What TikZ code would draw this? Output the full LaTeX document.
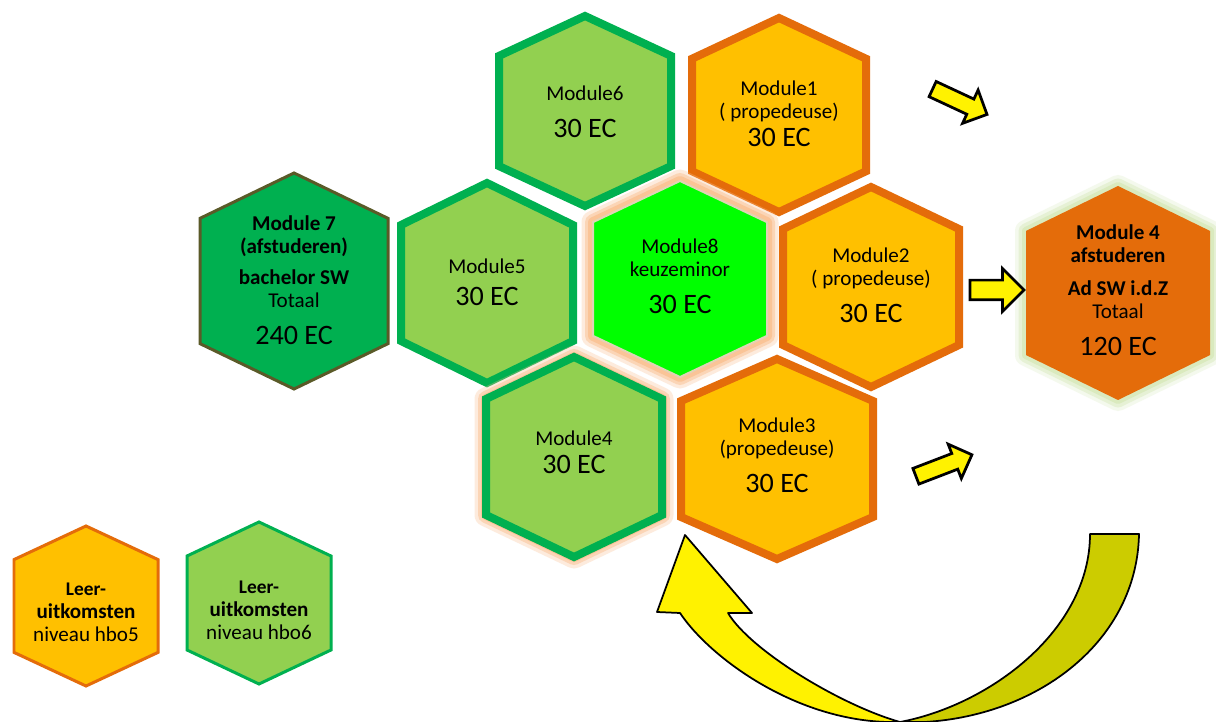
\documentclass[tikz,border=0pt]{standalone}
\usepackage{fontspec}
\setmainfont{Carlito}
\usetikzlibrary{shapes.arrows}

\definecolor{lgreen}{HTML}{92D050}
\definecolor{dgreen}{HTML}{00B050}
\definecolor{gold}{HTML}{FFC000}
\definecolor{orangeb}{HTML}{E46C0A}
\definecolor{lime}{HTML}{00FF00}
\definecolor{peach}{HTML}{FAC090}
\definecolor{glowgreen}{HTML}{D7E9B9}
\definecolor{mossy}{HTML}{5A5A28}
\definecolor{beige}{HTML}{E2D3B6}
\definecolor{darkyellow}{HTML}{CCCC00}

% hexagon: name, x, y, half width, half height, style, text y, text
\newcommand{\hexmod}[8]{%
  \path[#6] (#2,#3-#5) -- (#2+#4,#3-0.58*#5) -- (#2+#4,#3+0.58*#5) -- (#2,#3+#5)
    -- (#2-#4,#3+0.58*#5) -- (#2-#4,#3-0.58*#5) -- cycle;
  \node[modtext] (#1) at (#2,#7) {#8};}
\newcommand{\ec}[1]{{\fontsize{16}{18}\selectfont #1}}

\begin{document}
\begin{tikzpicture}[x=0.02cm, y=-0.02cm,
  modtext/.style={align=center, inner sep=0pt, font=\fontsize{12}{13}\selectfont},
  modgreen/.style={fill=lgreen, draw=dgreen, line width=0.16cm},
  modorange/.style={fill=gold, draw=orangeb, line width=0.16cm},
  glowpeach/.style={preaction={draw=peach, line width=0.46cm, opacity=.3, line join=round},
    preaction={draw=peach, line width=0.32cm, opacity=.5, line join=round},
    preaction={draw=peach, line width=0.2cm, opacity=.8, line join=round}},
  glowlight/.style={preaction={draw=glowgreen, line width=0.44cm, opacity=.25, line join=round},
    preaction={draw=glowgreen, line width=0.3cm, opacity=.45, line join=round},
    preaction={draw=glowgreen, line width=0.16cm, opacity=.8, line join=round}},
  blockarrow/.style={single arrow, draw=black, fill=yellow, line width=0.055cm,
    inner xsep=0pt, inner ysep=0.14cm, single arrow head extend=0.2cm, minimum height=1.2cm},
  bigarrow/.style={draw=black, line width=0.035cm, line join=round}]
\fill[white] (0,0) rectangle (1216,722);
\useasboundingbox (0,0) rectangle (1216,722);

\hexmod{m6}{585}{111}{86}{95}{modgreen}{112}{Module6\\[8pt]\ec{30 EC}}
\hexmod{m1}{779}{115}{87}{97}{modorange}{114}{Module1\\( propedeuse)\\[3pt]\ec{30 EC}}
\hexmod{m5}{487}{283}{86}{100}{modgreen}{282}{Module5\\[5pt]\ec{30 EC}}
\hexmod{m8}{680}{279}{87}{98}{glowpeach, fill=lime, draw=beige, line width=0.04cm}{276}{Module8\\keuzeminor\\[8pt]\ec{30 EC}}
\hexmod{m2}{871}{287}{88}{100}{modorange}{285}{Module2\\( propedeuse)\\[8pt]\ec{30 EC}}
\hexmod{m4}{574}{457}{88}{100}{glowpeach, modgreen}{452}{Module4\\[3pt]\ec{30 EC}}
\hexmod{m3}{777}{459}{96}{100}{modorange}{455}{Module3\\(propedeuse)\\[8pt]\ec{30 EC}}
\hexmod{m7}{294}{281}{94}{108}{fill=dgreen, draw=mossy, line width=0.06cm}{280}{\textbf{Module 7}\\\textbf{(afstuderen)}\\[5pt]\textbf{bachelor SW}\\Totaal\\[8pt]\ec{240 EC}}
\hexmod{af}{1118}{293}{92}{107}{glowlight, fill=orangeb}{290}{\textbf{Module 4}\\\textbf{afstuderen}\\[6pt]\textbf{Ad SW i.d.Z}\\Totaal\\[8pt]\ec{120 EC}}

% legenda
\hexmod{l5}{86}{606}{72}{80}{fill=gold, draw=orangeb, line width=0.06cm}{612}{\fontsize{11}{13}\selectfont\textbf{Leer-}\\\textbf{uitkomsten}\\niveau hbo5}
\hexmod{l6}{259}{603}{72}{81}{fill=lgreen, draw=dgreen, line width=0.06cm}{610}{\fontsize{11}{13}\selectfont\textbf{Leer-}\\\textbf{uitkomsten}\\niveau hbo6}

% pijlen
\node[blockarrow, rotate=-25] (ar1) at (956,100) {};
\node[blockarrow, rotate=0, inner ysep=0.17cm, single arrow head extend=0.23cm, minimum height=1.08cm] (ar2) at (992,290) {};
\node[blockarrow, rotate=21] (ar3) at (940,467) {};

% grote pijl terug
\draw[bigarrow, fill=yellow] (680,613) .. controls (710,658) and (800,725) .. (900,722)
  .. controls (840,705) and (750,650) .. (728,613) -- (752,613) -- (685,535) -- (657,612) -- cycle;
\draw[bigarrow, fill=darkyellow] (900,722) .. controls (990,705) and (1090,630) .. (1090,534)
  -- (1139,534) .. controls (1137,640) and (1040,715) .. (925,722) -- cycle;
\end{tikzpicture}
\end{document}
